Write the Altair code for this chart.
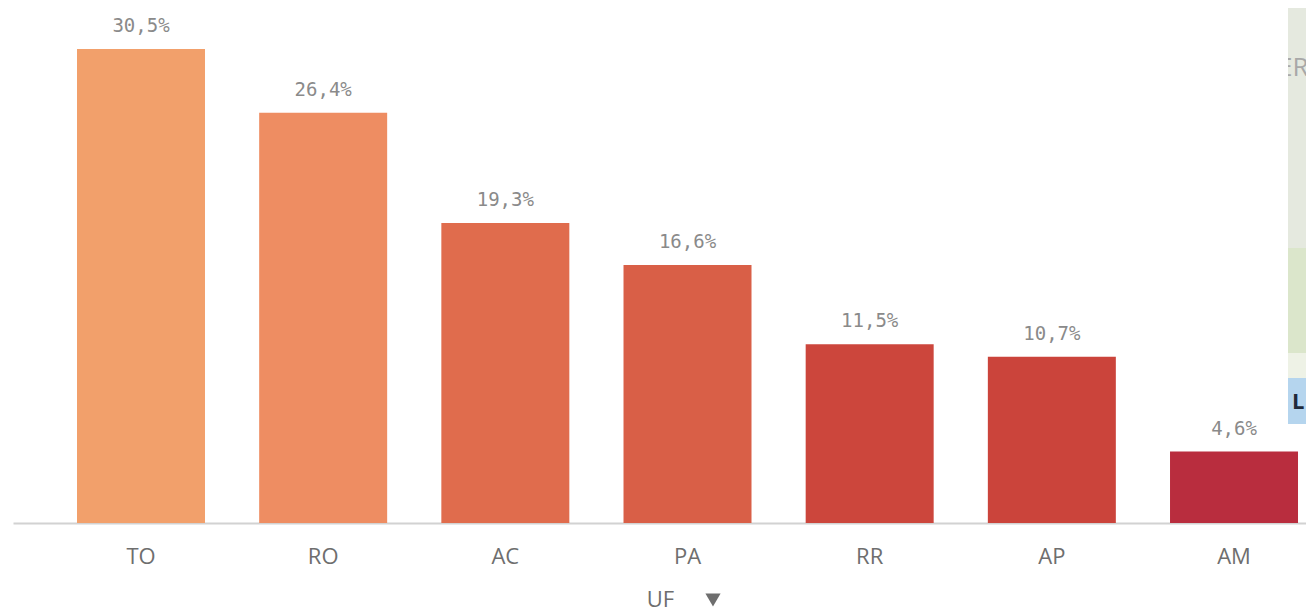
import altair as alt
import pandas as pd

categories = ["TO", "RO", "AC", "PA", "RR", "AP", "AM"]
values = [30.5, 26.4, 19.3, 16.6, 11.5, 10.7, 4.6]
labels = ["30,5%", "26,4%", "19,3%", "16,6%", "11,5%", "10,7%", "4,6%"]
colors = ["#F2A06B", "#EE8D62", "#E06C4D", "#D95F47", "#CC463C", "#CB443B", "#B92D3E"]

df = pd.DataFrame({"uf": categories, "v": values, "label": labels})
W, H = 1293, 515
TEXT = "#6e6e6e"

x = alt.X("uf:N", sort=categories,
          scale=alt.Scale(paddingInner=0.2974, paddingOuter=0.1976, align=0.889),
          axis=alt.Axis(title="UF", labelAngle=0, labelFontSize=22, labelFont="Open Sans",
                        labelColor=TEXT, labelPadding=23, ticks=False, domainColor="#d2d2d2",
                        domainWidth=2, titleFontSize=22, titleFont="Open Sans",
                        titleFontWeight="normal", titleColor=TEXT, titleX=647, titleY=76,
                        titleBaseline="middle"))
y = alt.Y("v:Q", scale=alt.Scale(domain=[0, 33.14]), axis=None)

bars = alt.Chart(df).mark_bar().encode(
    x=x, y=y,
    color=alt.Color("uf:N", scale=alt.Scale(domain=categories, range=colors), legend=None))
text = alt.Chart(df).mark_text(font="DejaVu Sans Mono", fontSize=19, color="#8a8a8a", dy=-23, baseline="middle").encode(
    x=alt.X("uf:N", sort=categories), y=y, text="label:N")

def rect(x0, x1, y0, y1, c):
    return alt.Chart(df.head(1)).mark_rect(color=c).encode(
        x=alt.value(x0), x2=alt.value(x1), y=alt.value(y0), y2=alt.value(y1))

def word(s, xp, yp, size, c, weight="normal"):
    return alt.Chart(df.head(1)).mark_text(text=s, fontSize=size, color=c, fontWeight=weight,
                                           font="Open Sans", align="left", baseline="middle").encode(
        x=alt.value(xp), y=alt.value(yp))

tri = alt.Chart(df.head(1)).mark_point(shape="triangle-down", filled=True, color="#6e6e6e", size=230, opacity=1).encode(
    x=alt.value(700), y=alt.value(592))

chart = alt.layer(
    rect(1275, 1293, -8, 240, "#e5e9df"),
    rect(1275, 1293, 240, 345, "#dbe6cb"),
    rect(1275, 1293, 345, 370, "#eef2e6"),
    rect(1275, 1293, 370, 416, "#b5d5ee"),
    word("ER", 1265, 60, 26, "#a8a8a8"),
    rect(1250, 1275, 40, 80, "#ffffff"),
    word("L", 1279, 394, 22, "#1f2a3a", "bold"),
    bars, text, tri,
).properties(width=W, height=H, padding={"left": 5, "top": 0, "right": 0, "bottom": 87},
             autosize=alt.AutoSizeParams(type="none")
).configure_view(stroke=None)

chart.save("out.html", embed_options={"renderer": "svg", "actions": False})
